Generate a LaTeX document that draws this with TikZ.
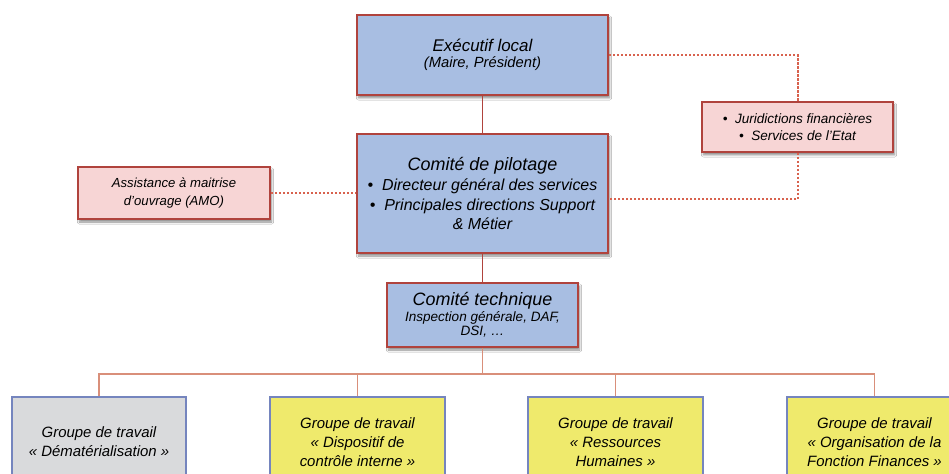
\documentclass[tikz,border=0pt]{standalone}
\usepackage{fontspec}
\setmainfont{Liberation Sans}
\usetikzlibrary{shadows.blur}
\definecolor{bluefill}{HTML}{A8BEE2}
\definecolor{redline}{HTML}{B0433D}
\definecolor{pinkfill}{HTML}{F7D5D5}
\definecolor{greyfill}{HTML}{D9DADC}
\definecolor{yellowfill}{HTML}{EFEA6C}
\definecolor{blueline}{HTML}{7585BE}
\definecolor{busline}{HTML}{D98F7A}
\definecolor{dotred}{HTML}{D8624E}
\tikzset{
  base/.style={rectangle, inner sep=0pt, align=center},
  bluebox/.style={base, fill=bluefill, draw=redline, line width=2bp,
    blur shadow={shadow blur steps=6, shadow xshift=1.5bp, shadow yshift=-3bp, shadow opacity=45}},
  pinkbox/.style={base, fill=pinkfill, draw=redline, line width=2bp,
    blur shadow={shadow blur steps=6, shadow xshift=1.5bp, shadow yshift=-3bp, shadow opacity=45}},
  greybox/.style={base, fill=greyfill, draw=blueline, line width=1.6bp, minimum width=174bp, minimum height=90bp,
    font=\itshape\fontsize{15}{19}\selectfont},
  yellowbox/.style={base, fill=yellowfill, draw=blueline, line width=1.6bp, minimum width=175bp, minimum height=90bp,
    font=\itshape\fontsize{15}{19}\selectfont},
  solidlink/.style={draw=redline, line width=1.3bp},
  buslink/.style={draw=busline, line width=1.5bp},
  dotlink/.style={draw=dotred, line width=2bp, dash pattern=on 2.2bp off 1.8bp}
}
\begin{document}
\begin{tikzpicture}[x=1bp,y=-1bp]
\clip (0,0) rectangle (949,474);
\fill[white] (0,0) rectangle (949,474);

\node[bluebox, minimum width=251bp, minimum height=80bp,
      font=\itshape\fontsize{14.8}{16}\selectfont] (exec) at (482.5,55)
  {{\fontsize{17}{17}\selectfont Exécutif local}\\
   (Maire, Président)};

\node[bluebox, minimum width=251bp, minimum height=119bp,
      font=\itshape\fontsize{16}{19.5}\selectfont] (pil) at (482.5,193.5)
  {{\fontsize{18}{19.5}\selectfont Comité de pilotage}\\[1bp]
   • \ Directeur général des services\\
   • \ Principales directions Support\\
   \& Métier};

\node[pinkbox, minimum width=192bp, minimum height=52bp,
      font=\itshape\fontsize{13.2}{18}\selectfont] (amo) at (174,193)
  {Assistance à maitrise\\
   d'ouvrage (AMO)};

\node[pinkbox, minimum width=191bp, minimum height=50bp,
      font=\itshape\fontsize{13.6}{17}\selectfont] (jur) at (797.5,127)
  {• \ Juridictions financières\\
   • \ Services de l'Etat};

\node[bluebox, minimum width=191bp, minimum height=64bp,
      font=\itshape\fontsize{13.6}{14.5}\selectfont] (tech) at (482.5,315)
  {{\fontsize{18}{18}\selectfont Comité technique}\\[1bp]
   Inspection générale, DAF,\\
   DSI, …};

\node[greybox] (g1) at (99,442)
  {Groupe de travail\\
   « Dématérialisation »};
\node[yellowbox] (g2) at (357.5,442)
  {Groupe de travail\\
   « Dispositif de\\
   contrôle interne »};
\node[yellowbox] (g3) at (615.5,442)
  {Groupe de travail\\
   « Ressources\\
   Humaines »};
\node[yellowbox] (g4) at (874.5,442)
  {Groupe de travail\\
   « Organisation de la\\
   Fonction Finances »};

% solid links
\draw[solidlink] (exec.south) -- (pil.north);
\draw[solidlink] (pil.south) -- (tech.north);
\coordinate (bus) at (482.5,374);
\draw[buslink] (tech.south) -- (bus);
\draw[buslink] (g1.north) -- (g1.north |- bus) -- (g4.north |- bus) -- (g4.north);
\draw[buslink] (g2.north |- bus) -- (g2.north);
\draw[buslink] (g3.north |- bus) -- (g3.north);

% dotted links
\draw[dotlink] (amo.east) -- (pil.west |- amo.east);
\draw[dotlink] (exec.east) -| (jur.north);
\draw[dotlink] (jur.south) |- ([yshift=-6bp]pil.east);
\end{tikzpicture}
\end{document}
